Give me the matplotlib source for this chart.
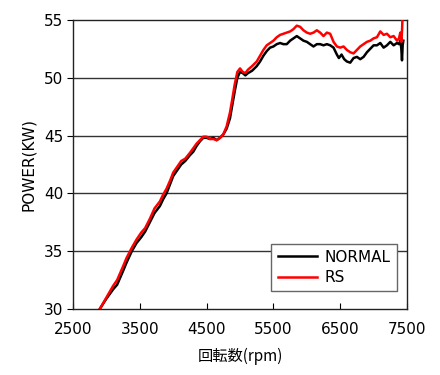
import matplotlib
matplotlib.use('Agg')
import matplotlib.pyplot as plt

plt.rcParams['font.family'] = ['DejaVu Sans', 'Noto Sans CJK JP']

rpm_normal = [2900, 3000, 3100, 3160, 3250, 3300, 3380, 3450, 3520, 3580, 3650, 3720, 3800, 3850,
              3900, 3960, 4000, 4060, 4120, 4180, 4250, 4300, 4350, 4400, 4450, 4500, 4550, 4600,
              4650, 4700, 4750, 4800, 4850, 4880, 4920, 4960, 5000, 5040, 5080, 5120, 5180, 5250,
              5300, 5350, 5400, 5450, 5500, 5550, 5600, 5650, 5700, 5750, 5800, 5850, 5900, 5950,
              6000, 6050, 6100, 6150, 6200, 6250, 6300, 6350, 6400, 6450, 6480, 6520, 6560, 6600,
              6650, 6700, 6750, 6800, 6850, 6900, 6950, 7000, 7050, 7100, 7150, 7200, 7250, 7300,
              7350, 7380, 7400, 7415, 7425, 7435, 7445]
pow_normal = [30.0, 30.9, 31.7, 32.1, 33.3, 34.0, 35.0, 35.7, 36.2, 36.7, 37.5, 38.3, 38.9, 39.5,
              40.0, 40.9, 41.5, 42.0, 42.5, 42.8, 43.3, 43.6, 44.1, 44.5, 44.8, 44.8, 44.7, 44.8,
              44.6, 44.8, 45.1, 45.6, 46.5, 47.5, 48.8, 50.0, 50.5, 50.4, 50.2, 50.4, 50.6, 51.0,
              51.4, 51.9, 52.3, 52.6, 52.7, 52.9, 53.0, 52.9, 52.9, 53.2, 53.4, 53.6, 53.4, 53.2,
              53.1, 52.9, 52.7, 52.9, 52.9, 52.8, 52.9, 52.8, 52.6, 52.0, 51.7, 52.0, 51.6, 51.4,
              51.3, 51.7, 51.8, 51.6, 51.8, 52.2, 52.5, 52.8, 52.8, 53.0, 52.6, 52.8, 53.1, 52.8,
              53.0, 52.9, 53.2, 52.5, 51.5, 52.8, 53.2]

rpm_rs = [2900, 3000, 3100, 3160, 3250, 3300, 3380, 3450, 3520, 3580, 3650, 3720, 3800, 3850,
          3900, 3960, 4000, 4060, 4120, 4180, 4250, 4300, 4350, 4400, 4450, 4500, 4550, 4600,
          4650, 4700, 4750, 4800, 4850, 4880, 4920, 4960, 5000, 5040, 5080, 5120, 5180, 5250,
          5300, 5350, 5400, 5450, 5500, 5550, 5600, 5650, 5700, 5750, 5800, 5850, 5900, 5950,
          6000, 6050, 6100, 6150, 6200, 6250, 6300, 6350, 6400, 6450, 6500, 6550, 6600, 6650,
          6700, 6750, 6800, 6850, 6900, 6950, 7000, 7050, 7100, 7150, 7200, 7250, 7300, 7350,
          7380, 7400, 7415, 7425, 7435]
pow_rs = [30.0, 31.0, 32.0, 32.5, 33.7, 34.4, 35.3, 36.0, 36.6, 37.0, 37.8, 38.7, 39.3, 39.9,
          40.4, 41.2, 41.8, 42.3, 42.8, 43.0, 43.5, 43.9, 44.3, 44.6, 44.9, 44.9, 44.7, 44.7,
          44.6, 44.8, 45.1, 45.8, 47.0, 48.0, 49.4, 50.5, 50.8, 50.5, 50.4, 50.7, 51.0, 51.4,
          51.9, 52.4, 52.8, 53.0, 53.2, 53.5, 53.7, 53.8, 53.9, 54.0, 54.2, 54.5, 54.4, 54.1,
          53.9, 53.8, 53.9, 54.1, 53.9, 53.6, 53.9, 53.8, 53.1, 52.7, 52.6, 52.7, 52.4, 52.2,
          52.1, 52.4, 52.7, 52.9, 53.1, 53.2, 53.4, 53.5, 54.0, 53.7, 53.8, 53.5, 53.6, 53.2,
          53.4, 53.9, 53.1, 54.0, 55.5]

x_ticks = [2500, 3500, 4500, 5500, 6500, 7500]
y_ticks = [30, 35, 40, 45, 50, 55]

fig = plt.figure(figsize=(4.4, 3.75), dpi=100)
ax = fig.add_axes([0.166, 0.176, 0.759, 0.771])

for y in y_ticks[1:-1]:
    ax.axhline(y, color='#333333', lw=1.0, zorder=1)

ax.plot(rpm_normal, pow_normal, color='black', lw=1.8, label='NORMAL', zorder=2)
ax.plot(rpm_rs, pow_rs, color='#ff0000', lw=1.8, label='RS', zorder=3)

ax.set_xlim(2500, 7500)
ax.set_ylim(30, 55)
ax.set_xticks(x_ticks)
ax.set_yticks(y_ticks)
ax.tick_params(axis='x', direction='in', length=4, labelsize=11, pad=9)
ax.tick_params(axis='y', direction='out', length=4, labelsize=11, pad=3)
for s in ax.spines.values():
    s.set_color('#222222')
    s.set_linewidth(1.0)

ax.set_xlabel('回転数(rpm)', fontsize=11, family=['Noto Sans CJK JP', 'DejaVu Sans'], labelpad=8)
ax.set_ylabel('POWER(KW)', fontsize=11, labelpad=6)

leg = ax.legend(loc='lower right', bbox_to_anchor=(0.97, 0.062), borderaxespad=0, fontsize=11,
                fancybox=False, framealpha=1, edgecolor='#666666', handlelength=2.6,
                borderpad=0.4, labelspacing=0.35, handletextpad=0.5)
leg.get_frame().set_linewidth(1.0)

fig.savefig('out.png', dpi=100)
